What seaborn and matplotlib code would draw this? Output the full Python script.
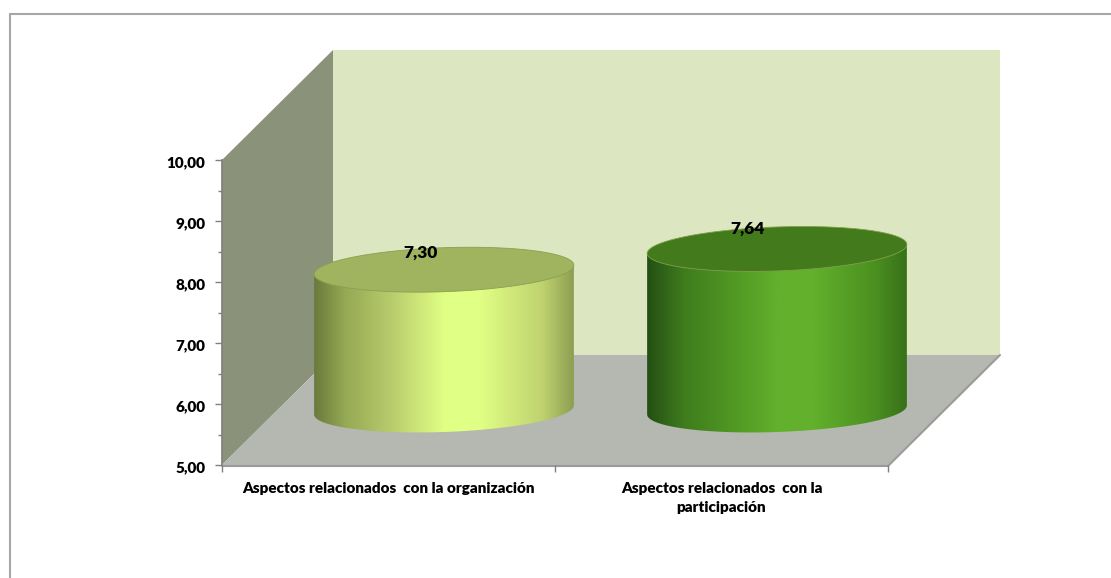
import numpy as np
import pandas as pd
import matplotlib
matplotlib.use("Agg")
import matplotlib.pyplot as plt
import seaborn as sns
from matplotlib.colors import LinearSegmentedColormap
from matplotlib.patches import Polygon
from matplotlib.transforms import ScaledTranslation

# data
categorias = ["Aspectos relacionados  con la organización",
              "Aspectos relacionados  con la\nparticipación"]
valores = [7.30, 7.64]
etiquetas = ["7,30", "7,64"]
ticks_y = [5, 6, 7, 8, 9, 10]
ticks_y_txt = ["5,00", "6,00", "7,00", "8,00", "9,00", "10,00"]

# colours of each cylinder: side gradient (position, colour) and top
col_lado = [[(0, "#6a7a3c"), (0.12, "#96a954"), (0.3, "#b9cc6c"), (0.5, "#e0ff85"), (0.64, "#e0ff85"),
             (0.88, "#bfd26f"), (1, "#8e9e52")],
            [(0, "#234f13"), (0.14, "#3f7c1d"), (0.32, "#4f9623"), (0.5, "#62b02c"), (0.64, "#62b02c"),
             (0.88, "#4b9020"), (1, "#37701a")]]
col_tapa = ["#a0b45f", "#437a1b"]
col_borde = ["#8aa050", "#7fa04a"]

W, H = 1111, 578
sns.set_theme(style="white")
plt.rcParams["font.family"] = ["Lato", "DejaVu Sans"]

fig = plt.figure(figsize=(W / 100, H / 100), dpi=100)

def caja(x0, x1, y_arriba, y_abajo):
    return [x0 / W, 1 - y_abajo / H, (x1 - x0) / W, (y_abajo - y_arriba) / H]

# overlay in pixels for the walls and floor of the 3D box
fondo = fig.add_axes([0, 0, 1, 1], zorder=0)
fondo.set_xlim(0, W)
fondo.set_ylim(H, 0)
fondo.axis("off")
fondo.add_patch(Polygon([(333, 50), (1000, 50), (1000, 355), (333, 355)], fc="#dce6c0", ec="none"))
fondo.add_patch(Polygon([(222, 160), (333, 50), (333, 355), (222, 465)], fc="#8a9279", ec="none"))
fondo.add_patch(Polygon([(222, 465), (333, 355), (1000, 355), (888, 465)], fc="#b5b7b1", ec="none"))
fondo.plot([222, 888, 1000], [466, 466, 355], color="#9a9a9a", lw=1.5)
fondo.plot([9.5, 9.5], [H, 13.5], color="#a6a6a6", lw=1.5)
fondo.plot([9.5, W], [13.5, 13.5], color="#a6a6a6", lw=1.5)

# front plane holds the axes, ticks and labels
ax = fig.add_axes(caja(222, 888, 160, 465), zorder=1)
ax.patch.set_alpha(0)
ax.set_xlim(-0.5, 1.5)
ax.set_ylim(5, 10)
ax.set_yticks(ticks_y)
ax.set_yticklabels(ticks_y_txt, fontsize=11, fontweight="heavy", color="black")
ax.set_yticks(np.arange(5.5, 10, 1), minor=True)
ax.set_xticks([-0.5, 0.5, 1.5])
ax.set_xticklabels([])
for i, c in enumerate(categorias):
    ax.text(i, 4.725, c, ha="center", va="top", fontsize=11, fontweight="heavy",
            color="black", linespacing=1.55)
ax.tick_params(axis="both", which="both", direction="out", color="#808080", left=True, bottom=True,
               length=5, width=1, pad=7)
ax.tick_params(axis="y", which="minor", length=3)
for s in ["top", "right", "bottom"]:
    ax.spines[s].set_visible(False)
ax.spines["left"].set_color("#808080")
for lab in ax.get_yticklabels():
    lab.set_transform(lab.get_transform() + ScaledTranslation(0, -2 / 100, fig.dpi_scale_trans))

# cylinders live half way through the depth of the box
ax2 = fig.add_axes(caja(222 + 55.5, 888 + 55.5, 160 - 55, 465 - 55), zorder=2)
ax2.patch.set_alpha(0)
df = pd.DataFrame({"categoria": categorias, "valor": valores})
sns.barplot(data=df, x="categoria", y="valor", ax=ax2, width=0.78, color="white", saturation=1)
ax2.set_xlim(-0.5, 1.5)
ax2.set_ylim(5, 10)
ax2.axis("off")

semi_alto = 22 / 61  # half height of the ellipse in axis units
giro = 4.5 / 61      # the ellipses lean a little to the right
desp_x = [-0.07, -0.09]
desp_y = [0.28, 0.34]

for i, barra in enumerate(list(ax2.patches)):
    x0, ancho = barra.get_x(), barra.get_width()
    cx = x0 + ancho / 2
    v = barra.get_height()
    barra.set_visible(False)
    cmap = LinearSegmentedColormap.from_list("c%d" % i, col_lado[i])

    # side of the cylinder: gradient clipped to body + lower half of the base
    ts = np.linspace(np.pi, 2 * np.pi, 60)
    xs = cx + ancho / 2 * np.cos(ts)
    ys = 5 + semi_alto * np.sin(ts) + giro * np.cos(ts)
    cuerpo = Polygon(list(zip(xs, ys)) + [(x0 + ancho, v + giro), (x0, v - giro)],
                     transform=ax2.transData, fc="none", ec="none")
    ax2.add_patch(cuerpo)
    im = ax2.imshow(np.linspace(0, 1, 256)[None, :], cmap=cmap, aspect="auto",
                    extent=[x0, x0 + ancho, 4, v + 0.5], zorder=2)
    im.set_clip_box(fig.bbox)
    im.set_clip_path(cuerpo)

    # top of the cylinder
    ts = np.linspace(0, 2 * np.pi, 120)
    tapa = Polygon(np.c_[cx + ancho / 2 * np.cos(ts), v + semi_alto * np.sin(ts) + giro * np.cos(ts)],
                   transform=ax2.transData, fc=col_tapa[i], ec=col_borde[i], lw=0.6, zorder=3)
    ax2.add_patch(tapa)
    ax2.text(cx + desp_x[i], v + desp_y[i], etiquetas[i], ha="center", va="center",
             fontsize=12.5, fontweight="heavy", color="black", zorder=4)
ax2.set_xlim(-0.5, 1.5)
ax2.set_ylim(5, 10)

fig.savefig("out.png", dpi=100)
